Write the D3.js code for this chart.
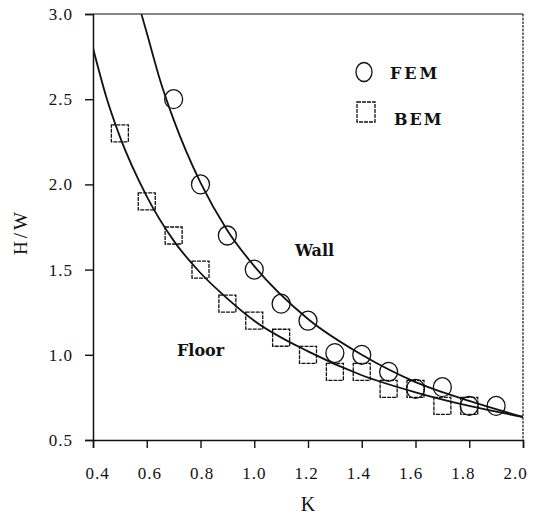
<!DOCTYPE html>
<html>
<head>
<meta charset="utf-8">
<script src="https://cdn.jsdelivr.net/npm/d3@7"></script>
<style>
  html, body { margin: 0; padding: 0; background: #fff; }
  svg { display: block; }
  .tick text { font-family: "Liberation Serif", "Times New Roman", serif; font-size: 17px; letter-spacing: 1px; fill: #111; }
</style>
</head>
<body>
<svg id="chart" width="533" height="515"></svg>
<script>
// Axis ticks
const kTicks = [0.4, 0.6, 0.8, 1.0, 1.2, 1.4, 1.6, 1.8, 2.0];
const hwTicks = [0.5, 1.0, 1.5, 2.0, 2.5, 3.0];

// FEM results (circles)
const femK  = [0.7, 0.8, 0.9, 1.0, 1.1, 1.2, 1.3, 1.4, 1.5, 1.6, 1.7, 1.8, 1.9];
const femHW = [2.5, 2.0, 1.7, 1.5, 1.3, 1.2, 1.01, 1.0, 0.9, 0.8, 0.81, 0.7, 0.7];

// BEM results (squares)
const bemK  = [0.5, 0.6, 0.7, 0.8, 0.9, 1.0, 1.1, 1.2, 1.3, 1.4, 1.5, 1.6, 1.7, 1.8];
const bemHW = [2.3, 1.9, 1.7, 1.5, 1.3, 1.2, 1.1, 1.0, 0.9, 0.9, 0.8, 0.8, 0.7, 0.7];

// Fitted curve for the wall
const wallCurveK  = [0.58, 0.6, 0.65, 0.7, 0.8, 0.9, 1.0, 1.2, 1.4, 1.6, 1.8, 2.0];
const wallCurveHW = [3.0, 2.89, 2.61, 2.38, 2.01, 1.73, 1.52, 1.21, 1.0, 0.84, 0.73, 0.635];

// Fitted curve for the floor
const floorCurveK  = [0.4, 0.45, 0.5, 0.6, 0.7, 0.8, 0.9, 1.0, 1.2, 1.4, 1.6, 1.8, 2.0];
const floorCurveHW = [2.8, 2.51, 2.28, 1.93, 1.67, 1.48, 1.33, 1.2, 1.02, 0.88, 0.78, 0.7, 0.635];

const svg = d3.select("#chart");
const W = 533, H = 515;
const margin = { top: 14, right: 10, bottom: 75, left: 93 };
const x0 = margin.left, x1 = W - margin.right;
const y0 = H - margin.bottom, y1 = margin.top;

const x = d3.scaleLinear().domain([0.4, 2.0]).range([x0, x1]);
const y = d3.scaleLinear().domain([0.5, 3.0]).range([y0, y1]);
// K tick labels sit on a slightly narrower span than the ticks themselves
const xLabel = d3.scaleLinear().domain([0.4, 2.0]).range([x0 + 4, x1 - 8]);

const serif = '"Liberation Serif", "Times New Roman", serif';
const boldSerif = '"DejaVu Serif", serif';

// Clip region for the curves
svg.append("defs").append("clipPath").attr("id", "plot-clip")
  .append("rect").attr("x", x0).attr("y", y1).attr("width", x1 - x0).attr("height", y0 - y1);

// Frame: top and right borders
svg.append("line").attr("x1", x0).attr("x2", x1).attr("y1", y1).attr("y2", y1)
  .attr("stroke", "#111").attr("stroke-width", 1.2);
svg.append("line").attr("x1", x1).attr("x2", x1).attr("y1", y1).attr("y2", y0)
  .attr("stroke", "#111").attr("stroke-width", 1.2).attr("stroke-dasharray", "2.5,1.2");

// Axes
const fmt = d3.format(".1f");
const xAxis = svg.append("g").attr("transform", `translate(0,${y0})`)
  .call(d3.axisBottom(x).tickValues(kTicks).tickFormat(fmt).tickSize(8).tickPadding(19));
xAxis.selectAll(".tick text").attr("x", d => xLabel(d) - x(d));
const yAxis = svg.append("g").attr("transform", `translate(${x0},0)`)
  .call(d3.axisLeft(y).tickValues(hwTicks).tickFormat(fmt).tickSize(8).tickPadding(12));
[xAxis, yAxis].forEach(g => {
  g.select(".domain").attr("stroke", "#111").attr("stroke-width", 1.5);
  g.selectAll(".tick line").attr("stroke", "#111").attr("stroke-width", 1.4);
});

// Curves
const line = d3.line().x(d => x(d[0])).y(d => y(d[1])).curve(d3.curveMonotoneX);
const curves = svg.append("g").attr("clip-path", "url(#plot-clip)");
curves.append("path").datum(wallCurveK.map((k, i) => [k, wallCurveHW[i]]))
  .attr("d", line).attr("fill", "none").attr("stroke", "#111").attr("stroke-width", 1.8);
curves.append("path").datum(floorCurveK.map((k, i) => [k, floorCurveHW[i]]))
  .attr("d", line).attr("fill", "none").attr("stroke", "#111").attr("stroke-width", 1.8);

// BEM squares
const sq = 17;
svg.append("g").selectAll("rect").data(bemK.map((k, i) => [k, bemHW[i]])).join("rect")
  .attr("x", d => x(d[0]) - sq / 2).attr("y", d => y(d[1]) - sq / 2)
  .attr("width", sq).attr("height", sq)
  .attr("fill", "none").attr("stroke", "#111").attr("stroke-width", 1.3)
  .attr("stroke-dasharray", "4,1");

// FEM circles
svg.append("g").selectAll("ellipse").data(femK.map((k, i) => [k, femHW[i]])).join("ellipse")
  .attr("cx", d => x(d[0])).attr("cy", d => y(d[1]))
  .attr("rx", 9).attr("ry", 9.5)
  .attr("fill", "none").attr("stroke", "#111").attr("stroke-width", 1.3);

// Legend
const legend = svg.append("g");
legend.append("ellipse").attr("cx", 364).attr("cy", 72).attr("rx", 8).attr("ry", 9.5)
  .attr("fill", "none").attr("stroke", "#111").attr("stroke-width", 1.3);
legend.append("text").attr("x", 390).attr("y", 79).text("FEM")
  .attr("font-family", boldSerif).attr("font-weight", "bold").attr("font-size", 16)
  .attr("letter-spacing", "3px").attr("fill", "#111");
legend.append("rect").attr("x", 357).attr("y", 102).attr("width", 18).attr("height", 20)
  .attr("fill", "none").attr("stroke", "#111").attr("stroke-width", 1.3).attr("stroke-dasharray", "4,1");
legend.append("text").attr("x", 394).attr("y", 125).text("BEM")
  .attr("font-family", boldSerif).attr("font-weight", "bold").attr("font-size", 16)
  .attr("letter-spacing", "2px").attr("fill", "#111");

// Curve labels
svg.append("text").attr("x", 295).attr("y", 256).text("Wall")
  .attr("font-family", boldSerif).attr("font-weight", "bold").attr("font-size", 16)
  .attr("fill", "#111");
svg.append("text").attr("x", 177).attr("y", 356).text("Floor")
  .attr("font-family", boldSerif).attr("font-weight", "bold").attr("font-size", 16)
  .attr("fill", "#111");

// Axis titles
svg.append("text").attr("x", (x0 + x1) / 2).attr("y", 511).attr("text-anchor", "middle")
  .text("K").attr("font-family", serif).attr("font-size", 20).attr("fill", "#111");
svg.append("text").attr("transform", `translate(27,${(y0 + y1) / 2 + 5}) rotate(-90)`)
  .attr("text-anchor", "middle").text("H/W")
  .attr("font-family", serif).attr("font-size", 19).attr("letter-spacing", "3px").attr("fill", "#111");
</script>
</body>
</html>
